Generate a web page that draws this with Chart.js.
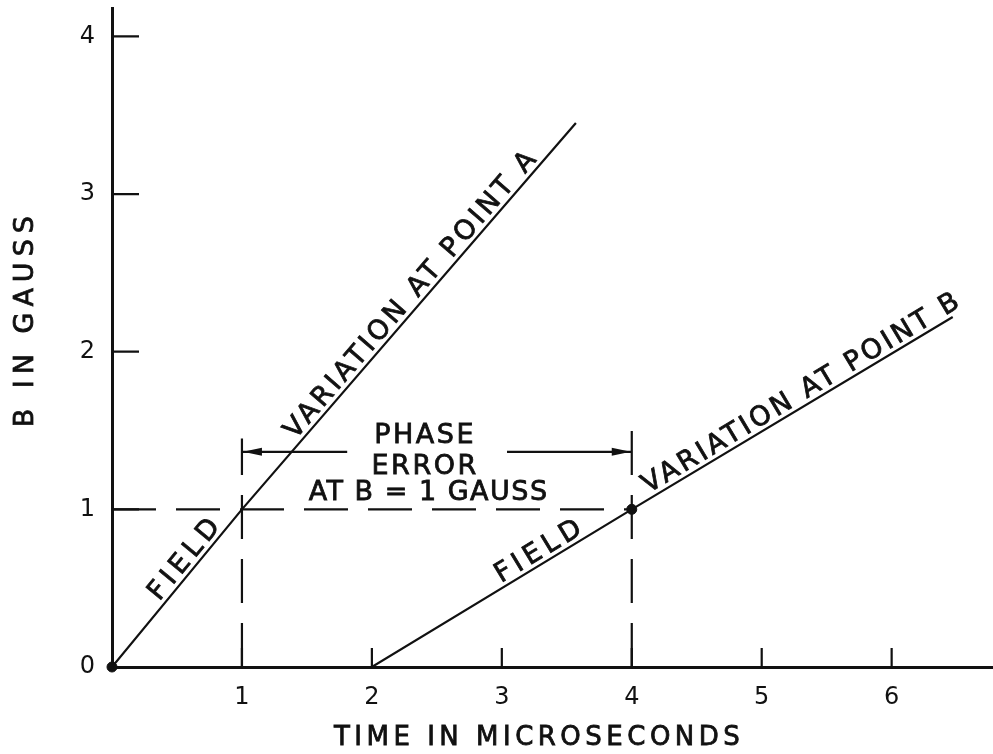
<!DOCTYPE html>
<html>
<head>
<meta charset="utf-8">
<script src="https://cdn.jsdelivr.net/npm/chart.js@4.4.1/dist/chart.umd.min.js"></script>
<style>
  html, body { margin: 0; padding: 0; background: #fff; }
</style>
</head>
<body>
<canvas id="myChart" width="993" height="754"></canvas>
<script>
// values (time in microseconds, B in gauss)
const timeA = [0, 1, 3.57];
const fieldA = [0, 1, 3.45];
const timeB = [2, 4, 6.47];
const fieldB = [0, 1, 2.22];
const dotTime = [0, 4];
const dotField = [0, 1];
const levelTime = [0, 4];
const levelField = [1, 1];
const guide1Time = [1, 1];
const guide1Field = [0, 1.45];
const guide4Time = [4, 4];
const guide4Field = [0, 1.58];
const arrowLeftTime = [1, 1.81];
const arrowRightTime = [3.04, 4];
const arrowField = [1.365, 1.365];
const xTicks = [1, 2, 3, 4, 5, 6];
const yTicks = [0, 1, 2, 3, 4];
const phaseText = ["PHASE", "ERROR", "AT B = 1 GAUSS"];
const labelA = ["FIELD", "VARIATION AT POINT A"];
const labelB = ["FIELD", "VARIATION AT POINT B"];
const xTitle = "TIME IN MICROSECONDS";
const yTitle = "B IN GAUSS";

const ink = "#111";
const font = "'DejaVu Sans', sans-serif";

const pts = (xs, ys) => xs.map((x, i) => ({ x: x, y: ys[i] }));

const solid = (data) => ({
  data: data,
  showLine: true,
  borderColor: ink,
  borderWidth: 2.2,
  pointRadius: 0,
});

const dashed = (data) => ({
  data: data,
  showLine: true,
  borderColor: ink,
  borderWidth: 2.2,
  borderDash: [44, 20],
  pointRadius: 0,
});

// lettering a bit heavier than the plain font, with wide spacing
function drawSpaced(ctx, text, x, y, angle, size, spacing, dy) {
  ctx.save();
  ctx.translate(x, y);
  ctx.rotate(angle);
  ctx.font = size + "px " + font;
  ctx.letterSpacing = spacing + "px";
  ctx.textAlign = "left";
  ctx.textBaseline = "alphabetic";
  ctx.fillStyle = ink;
  ctx.strokeStyle = ink;
  ctx.lineWidth = 0.8;
  const w = ctx.measureText(text).width - spacing;
  ctx.fillText(text, -w / 2, dy || 0);
  ctx.strokeText(text, -w / 2, dy || 0);
  ctx.restore();
}

// label placed along a polyline at data x = t
function lineLabel(chart, xs, ys, t, text, size, spacing) {
  const sx = chart.scales.x;
  const sy = chart.scales.y;
  let i = 0;
  while (i < xs.length - 2 && t > xs[i + 1]) i++;
  const x1 = sx.getPixelForValue(xs[i]);
  const y1 = sy.getPixelForValue(ys[i]);
  const x2 = sx.getPixelForValue(xs[i + 1]);
  const y2 = sy.getPixelForValue(ys[i + 1]);
  const f = (t - xs[i]) / (xs[i + 1] - xs[i]);
  const px = x1 + (x2 - x1) * f;
  const py = y1 + (y2 - y1) * f;
  drawSpaced(chart.ctx, text, px, py, Math.atan2(y2 - y1, x2 - x1), size, spacing, -5);
}

const annotations = {
  id: "annotations",
  afterDatasetsDraw(chart) {
    const ctx = chart.ctx;
    const sx = chart.scales.x;
    const sy = chart.scales.y;
    const x0 = sx.getPixelForValue(0);
    const y0 = sy.getPixelForValue(0);

    // tick marks drawn inward
    ctx.save();
    ctx.strokeStyle = ink;
    ctx.lineWidth = 2.2;
    ctx.beginPath();
    xTicks.forEach((v) => {
      const px = sx.getPixelForValue(v);
      ctx.moveTo(px, y0);
      ctx.lineTo(px, y0 - 19);
    });
    yTicks.forEach((v) => {
      if (v === 0) return;
      const py = sy.getPixelForValue(v);
      ctx.moveTo(x0, py);
      ctx.lineTo(x0 + 27, py);
    });
    ctx.stroke();

    // arrowheads
    ctx.fillStyle = ink;
    const ay = sy.getPixelForValue(arrowField[0]);
    const al = sx.getPixelForValue(arrowLeftTime[0]);
    const ar = sx.getPixelForValue(arrowRightTime[1]);
    ctx.beginPath();
    ctx.moveTo(al + 1, ay);
    ctx.lineTo(al + 20, ay - 4);
    ctx.lineTo(al + 20, ay + 4);
    ctx.closePath();
    ctx.fill();
    ctx.beginPath();
    ctx.moveTo(ar - 1, ay);
    ctx.lineTo(ar - 20, ay - 4);
    ctx.lineTo(ar - 20, ay + 4);
    ctx.closePath();
    ctx.fill();
    ctx.restore();

    // phase error text
    const cx = sx.getPixelForValue(2.4);
    drawSpaced(ctx, phaseText[0], cx, sy.getPixelForValue(1.422), 0, 27, 2.5);
    drawSpaced(ctx, phaseText[1], cx, sy.getPixelForValue(1.225), 0, 27, 2.5);
    drawSpaced(ctx, phaseText[2], cx + 4, sy.getPixelForValue(1.06), 0, 27, 1.5);

    // labels along the lines
    lineLabel(chart, timeA, fieldA, 0.63, labelA[0], 27, 5);
    lineLabel(chart, timeA, fieldA, 2.37, labelA[1], 27, 3.5);
    lineLabel(chart, timeB, fieldB, 3.33, labelB[0], 27, 5);
    lineLabel(chart, timeB, fieldB, 5.35, labelB[1], 27, 3.2);

    // axis titles
    drawSpaced(ctx, xTitle, sx.getPixelForValue(3.27), 745, 0, 26, 4.5);
    drawSpaced(ctx, yTitle, 33, sy.getPixelForValue(2.19), -Math.PI / 2, 27, 6);
  },
};

new Chart(document.getElementById("myChart"), {
  type: "scatter",
  data: {
    datasets: [
      dashed(pts(levelTime, levelField)),
      dashed(pts(guide1Time, guide1Field)),
      dashed(pts(guide4Time, guide4Field)),
      solid(pts(arrowLeftTime, arrowField)),
      solid(pts(arrowRightTime, arrowField)),
      solid(pts(timeA, fieldA)),
      solid(pts(timeB, fieldB)),
      {
        data: pts(dotTime, dotField),
        pointRadius: 5,
        pointBackgroundColor: ink,
        pointBorderColor: ink,
        clip: false,
      },
    ],
  },
  options: {
    responsive: false,
    animation: false,
    devicePixelRatio: 1,
    layout: { autoPadding: false, padding: { top: 8, right: 0, left: 0, bottom: 0 } },
    plugins: { legend: { display: false }, tooltip: { enabled: false } },
    scales: {
      x: {
        type: "linear",
        min: 0,
        max: 6.78,
        grid: { display: false, drawTicks: false },
        border: { display: true, color: ink, width: 3 },
        afterBuildTicks: (scale) => {
          scale.ticks = xTicks.map((v) => ({ value: v }));
        },
        afterFit: (scale) => {
          scale.height = 87;
          scale.paddingLeft = 0;
          scale.paddingRight = 0;
        },
        ticks: {
          color: ink,
          padding: 16,
          font: { family: font, size: 24 },
          callback: (v) => String(v),
        },
      },
      y: {
        type: "linear",
        min: 0,
        max: 4.18,
        grid: { display: false, drawTicks: false },
        border: { display: true, color: ink, width: 3 },
        afterBuildTicks: (scale) => {
          scale.ticks = yTicks.map((v) => ({ value: v }));
        },
        afterFit: (scale) => {
          scale.width = 112;
          scale.paddingTop = 0;
          scale.paddingBottom = 0;
        },
        ticks: {
          color: ink,
          padding: 17,
          font: { family: font, size: 24 },
          callback: (v) => String(v),
        },
      },
    },
  },
  plugins: [annotations],
});
</script>
</body>
</html>
